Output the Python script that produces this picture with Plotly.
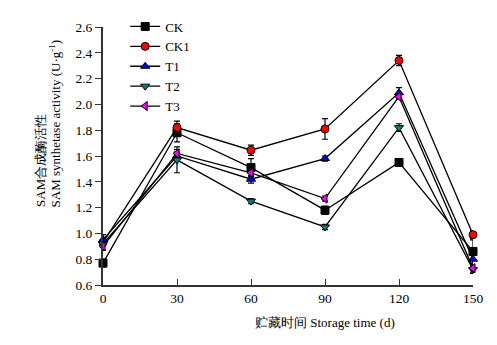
import plotly.graph_objects as go

days = [0, 30, 60, 90, 120, 150]
series_names = ["CK", "CK1", "T1", "T2", "T3"]
ck = [0.77, 1.78, 1.51, 1.18, 1.55, 0.86]
ck1 = [0.93, 1.82, 1.645, 1.81, 2.34, 0.99]
t1 = [0.95, 1.60, 1.42, 1.58, 2.09, 0.80]
t2 = [0.92, 1.57, 1.25, 1.05, 1.82, 0.72]
t3 = [0.90, 1.62, 1.47, 1.27, 2.06, 0.73]
ck_err = [0.03, 0.07, 0.07, 0.03, 0.02, 0.09]
ck1_err = [0.03, 0.05, 0.04, 0.08, 0.04, 0.03]
t1_err = [0.04, 0.03, 0.03, 0.02, 0.04, 0.05]
t2_err = [0.05, 0.10, 0.02, 0.02, 0.03, 0.03]
t3_err = [0.03, 0.03, 0.03, 0.02, 0.02, 0.03]

values = [ck, ck1, t1, t2, t3]
errors = [ck_err, ck1_err, t1_err, t2_err, t3_err]
symbols = ["square", "circle", "triangle-up", "triangle-down", "triangle-left"]
colors = ["#000000", "#ff0000", "#0000ff", "#008080", "#ff00ff"]

FONT = "Liberation Serif, Times New Roman, serif"
fig = go.Figure()
for name, v, e, s, c in zip(series_names, values, errors, symbols, colors):
    fig.add_trace(go.Scatter(
        x=days, y=v, name=name, mode="lines+markers",
        line=dict(color="black", width=1.3),
        marker=dict(symbol=s, size=8, color=c, line=dict(color="black", width=1)),
        error_y=dict(type="data", array=e, visible=True, color="black", thickness=1.2, width=3),
        cliponaxis=False,
    ))

fig.update_layout(
    width=497, height=345,
    margin=dict(l=103, r=24, t=12, b=60),
    paper_bgcolor="white", plot_bgcolor="white",
    font=dict(family=FONT, size=13, color="black"),
    showlegend=True,
    legend=dict(x=0.06, y=1.06, xanchor="left", yanchor="top",
                bgcolor="rgba(0,0,0,0)", font=dict(family=FONT, size=13),
                itemwidth=30, tracegroupgap=0),
    xaxis=dict(range=[0, 150], tickvals=days, ticks="inside", ticklen=6,
               showline=True, linecolor="#333", linewidth=2, tickcolor="#333",
               showgrid=False, zeroline=False, tickfont=dict(size=13.5)),
    yaxis=dict(range=[0.6, 2.6], dtick=0.2, tickformat=".1f", ticks="outside", ticklen=6,
               showline=True, linecolor="#333", linewidth=2, tickcolor="#333",
               showgrid=False, zeroline=False, tickfont=dict(size=13.5)),
)

fig.add_annotation(text="SAM合成酶活性", xref="paper", yref="paper",
                   x=(41 - 103) / 370, y=(285 - 205) / 273, xanchor="center", yanchor="bottom",
                   textangle=-90, showarrow=False, font=dict(family=FONT, size=13))
fig.add_annotation(text="SAM synthetase activity (U·g<sup>-1</sup>)", xref="paper", yref="paper",
                   x=(55 - 103) / 370, y=(285 - 205) / 273, xanchor="center", yanchor="bottom",
                   textangle=-90, showarrow=False, font=dict(family=FONT, size=13))
fig.add_annotation(text="贮藏时间 Storage time (d)", xref="paper", yref="paper",
                   x=(325 - 103) / 370, y=-(325 - 285) / 273, xanchor="center", yanchor="middle",
                   showarrow=False, font=dict(family=FONT, size=13))

fig.write_html("out.html")
